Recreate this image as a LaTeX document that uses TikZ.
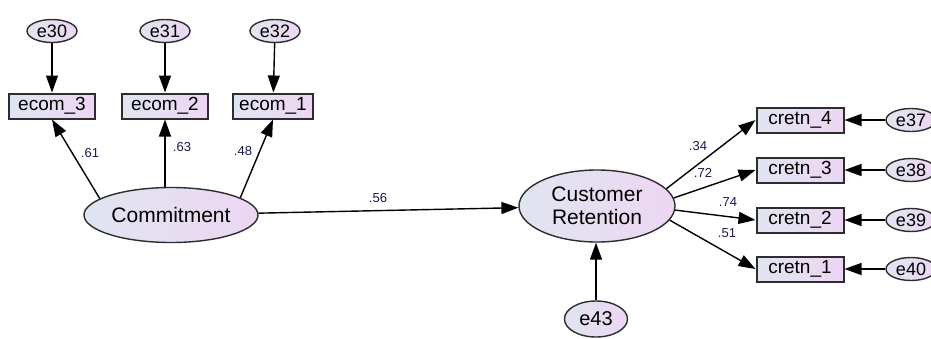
\documentclass[tikz,border=0pt]{standalone}
\usepackage{fontspec}
\setmainfont{Liberation Sans}
\usetikzlibrary{arrows.meta,shapes.geometric}
\definecolor{shadeL}{RGB}{224,229,240}
\definecolor{shadeR}{RGB}{237,214,242}
\definecolor{edgegray}{RGB}{45,45,45}
\definecolor{coefblue}{RGB}{25,25,80}

\begin{document}
\begin{tikzpicture}[
x=1pt,y=-1pt,
>={Triangle[length=17pt,width=12pt]},
every path/.style={line width=1.4pt},
lat/.style={draw=edgegray,ellipse,left color=shadeL,right color=shadeR,inner sep=0pt,
  align=center,font=\fontsize{21}{23}\selectfont},
err/.style={draw=edgegray,ellipse,left color=shadeL,right color=shadeR,inner sep=0pt,
  minimum width=50pt,minimum height=23pt,font=\fontsize{18}{20}\selectfont},
obs/.style={draw=edgegray,rectangle,left color=shadeL,right color=shadeR,inner sep=0pt,
  line width=2pt,minimum height=25pt,font=\fontsize{19}{21}\selectfont},
coef/.style={text=coefblue,font=\fontsize{13}{15}\selectfont}
]
\useasboundingbox (0,0) rectangle (931,338);

% left block
\node[lat,minimum width=174pt,minimum height=55pt] (comm) at (171,215) {Commitment};
	\node[obs,minimum width=86pt] (ecom3) at (52,106) {ecom\_3};
	\node[obs,minimum width=86pt] (ecom2) at (165,106) {ecom\_2};
	\node[obs,minimum width=80pt] (ecom1) at (273,106) {ecom\_1};
		\node[err] (e30) at (52,31) {e30};
		\node[err] (e31) at (165,31) {e31};
		\node[err] (e32) at (275,31) {e32};

% right block
\node[lat,minimum width=156pt,minimum height=72pt] (cret) at (597,206) {Customer\\Retention};
	\node[obs,minimum width=87pt] (cretn4) at (800,120) {cretn\_4};
	\node[obs,minimum width=87pt] (cretn3) at (800,170) {cretn\_3};
	\node[obs,minimum width=87pt] (cretn2) at (800,220) {cretn\_2};
	\node[obs,minimum width=87pt] (cretn1) at (800,269) {cretn\_1};
		\node[err] (e37) at (911,120) {e37};
		\node[err] (e38) at (911,170) {e38};
		\node[err] (e39) at (911,220) {e39};
		\node[err] (e40) at (911,269) {e40};
	\node[err,minimum width=63pt,minimum height=36pt,font=\fontsize{20}{22}\selectfont] (e43) at (596,319) {e43};

% errors
\draw[->] (e30) -- (ecom3);
\draw[->] (e31) -- (ecom2);
\draw[->] (e32) -- (ecom1);
\draw[->] (e37) -- (cretn4);
\draw[->] (e38) -- (cretn3);
\draw[->] (e39) -- (cretn2);
\draw[->] (e40) -- (cretn1);
\draw[->] (e43.north) -- (e43.north |- cret.south);

% loadings
\draw[->] (comm.167) -- (ecom3.south);
\draw[->] (ecom2.south |- comm.north) -- (ecom2.south);
\draw[->] (comm.14) -- (ecom1.south);
\draw[->] (cret.14) -- (cretn4.west);
\draw[->] (cret.6) -- (cretn3.west);
\draw[->] (cret.-3) -- (cretn2.west);
\draw[->] (cret.-11) -- (cretn1.west);

% structural path
\draw[->] (comm) -- (cret);

% coefficients
\node[coef] (c61) at (90,153) {.61};
\node[coef] (c63) at (182,147) {.63};
\node[coef] (c48) at (243,151) {.48};
\node[coef] (c56) at (378,198) {.56};
\node[coef] (c34) at (698,146) {.34};
\node[coef] (c72) at (703,173) {.72};
\node[coef] (c74) at (728,202) {.74};
\node[coef] (c51) at (727,233) {.51};

\end{tikzpicture}
\end{document}
